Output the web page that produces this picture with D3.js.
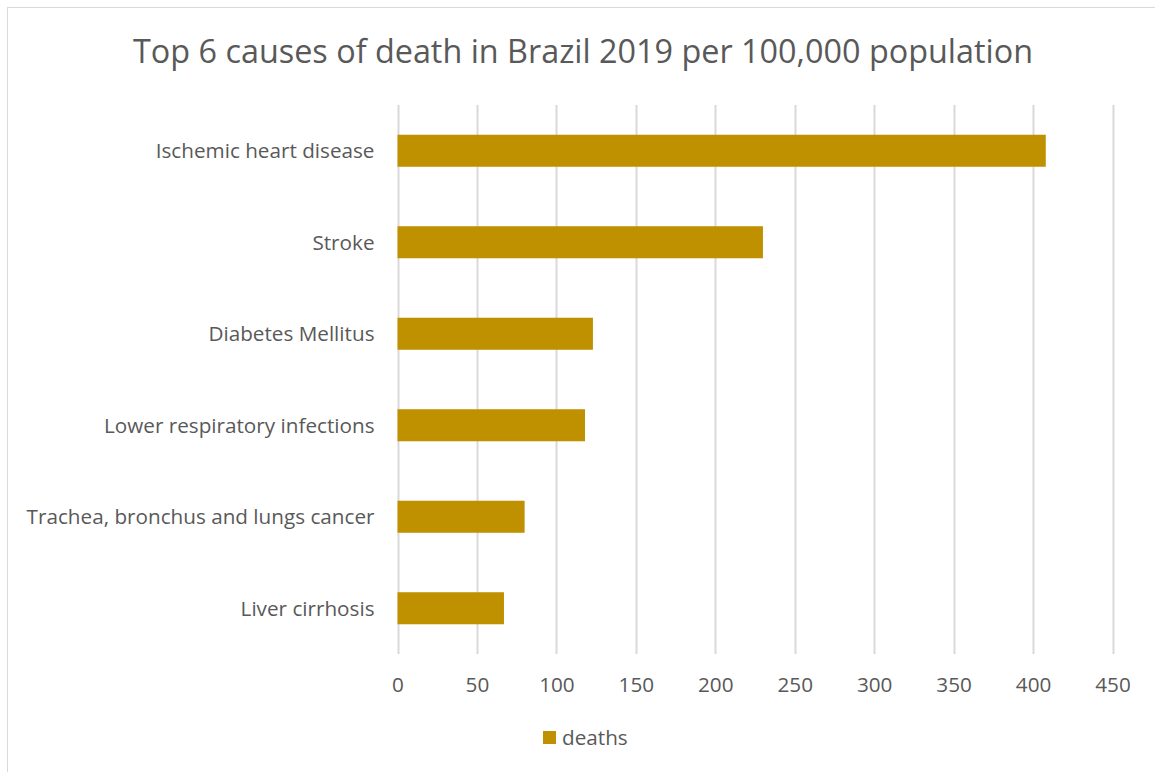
<!DOCTYPE html>
<html>
<head>
<meta charset="utf-8">
<script src="https://cdn.jsdelivr.net/npm/d3@7"></script>
<style>
  html, body { margin: 0; padding: 0; background: #fff; }
  svg { display: block; }
  text { font-family: "Open Sans", "Liberation Sans", sans-serif; fill: #595959; }
</style>
</head>
<body>
<svg id="chart" width="1155" height="772"></svg>
<script>
// Top causes of death, Brazil 2019, deaths per 100,000 population
const causes = [
  "Ischemic heart disease",
  "Stroke",
  "Diabetes Mellitus",
  "Lower respiratory infections",
  "Trachea, bronchus and lungs cancer",
  "Liver cirrhosis"
];
const deaths = [408, 230, 123, 118, 80, 67];
const xTicks = [0, 50, 100, 150, 200, 250, 300, 350, 400, 450];
const seriesName = "deaths";
const titleText = "Top 6 causes of death in Brazil 2019 per 100,000 population";

const W = 1155, H = 772;
const plot = { left: 397.5, right: 1112.5, top: 105, bottom: 654 };
const barColor = "#BF9000";
const gridColor = "#D9D9D9";

const svg = d3.select("#chart");

// outer chart frame (only the top and left edges fall inside the page)
svg.append("rect")
  .attr("x", 7.5).attr("y", 7.5)
  .attr("width", W).attr("height", H)
  .attr("fill", "#fff")
  .attr("stroke", gridColor).attr("stroke-width", 1);

const x = d3.scaleLinear().domain([0, 450]).range([plot.left, plot.right]);
const y = d3.scaleBand().domain(causes).range([plot.top, plot.bottom]).paddingInner(0.65).paddingOuter(0.325);

// scale a text node's font size so that it spans a given width
function fitWidth(sel, width) {
  sel.each(function () {
    const w = this.getComputedTextLength();
    const fs = parseFloat(this.getAttribute("font-size"));
    this.setAttribute("font-size", (fs * width / w).toFixed(2));
  });
}

// vertical gridlines
svg.append("g")
  .selectAll("line")
  .data(xTicks)
  .join("line")
  .attr("x1", d => Math.round(x(d)) + 0.5)
  .attr("x2", d => Math.round(x(d)) + 0.5)
  .attr("y1", plot.top)
  .attr("y2", plot.bottom)
  .attr("stroke", gridColor)
  .attr("stroke-width", 2);

// bars
const rows = causes.map((c, i) => ({ cause: c, value: deaths[i] }));
svg.append("g")
  .selectAll("rect")
  .data(rows)
  .join("rect")
  .attr("x", x(0))
  .attr("y", d => y(d.cause))
  .attr("width", d => x(d.value) - x(0))
  .attr("height", y.bandwidth())
  .attr("fill", barColor);

// x axis labels
const xAxis = d3.axisBottom(x).tickValues(xTicks).tickSize(0).tickPadding(0).tickFormat(d3.format("d"));
const gx = svg.append("g")
  .attr("transform", `translate(0,${plot.bottom})`)
  .call(xAxis);
gx.select(".domain").remove();
gx.selectAll("text")
  .attr("font-size", 18)
  .attr("dy", null)
  .attr("y", 38)
  .attr("fill", "#595959")
  .style("font-family", "'Open Sans', sans-serif");

// category labels
const yAxis = d3.axisLeft(y).tickSize(0).tickPadding(0);
const gy = svg.append("g")
  .attr("transform", `translate(${plot.left - 23},0)`)
  .call(yAxis);
gy.select(".domain").remove();
gy.selectAll("text")
  .attr("font-size", 18)
  .attr("dy", "0.35em")
  .attr("fill", "#595959")
  .style("font-family", "'Open Sans', sans-serif");
fitWidth(gy.selectAll("text").filter(d => d === causes[4]), 348);
const labelSize = gy.selectAll("text").filter(d => d === causes[4]).attr("font-size");
gy.selectAll("text").attr("font-size", labelSize);
gx.selectAll("text").attr("font-size", labelSize);

// title
const title = svg.append("text")
  .attr("x", 583)
  .attr("y", 63)
  .attr("text-anchor", "middle")
  .attr("font-size", 30)
  .text(titleText);
fitWidth(title, 900);

// legend
const legend = svg.append("g").attr("transform", "translate(543,731)");
legend.append("rect")
  .attr("width", 13).attr("height", 13)
  .attr("fill", barColor);
legend.append("text")
  .attr("x", 19)
  .attr("y", 13.5)
  .attr("font-size", labelSize)
  .text(seriesName);
</script>
</body>
</html>
